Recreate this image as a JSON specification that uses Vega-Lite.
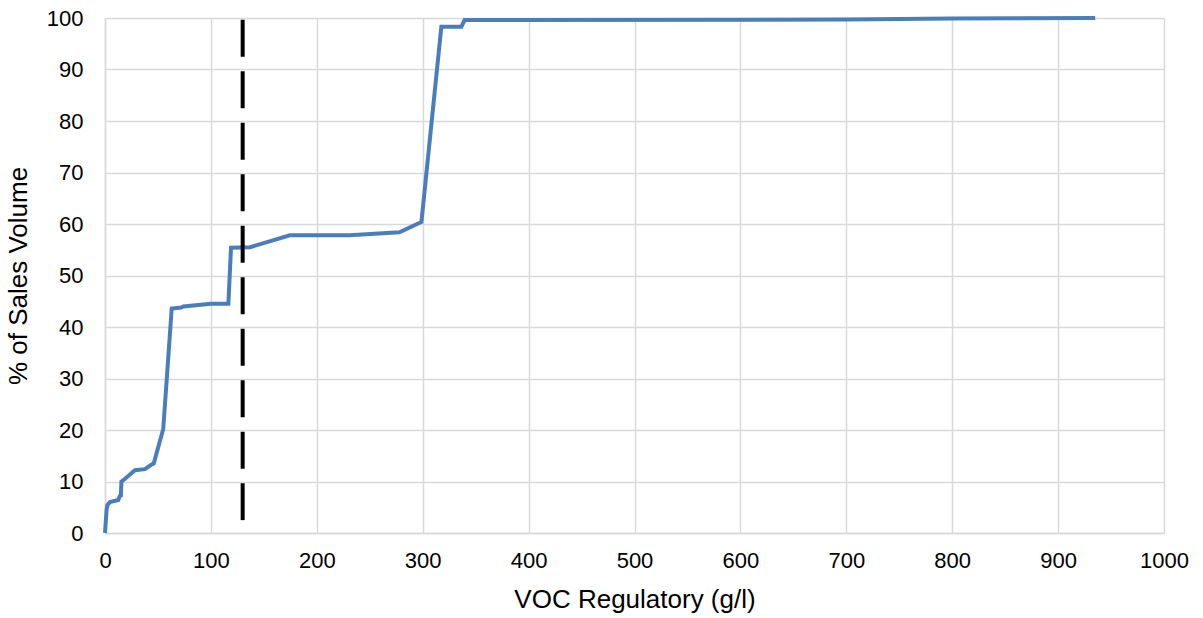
{
  "$schema": "https://vega.github.io/schema/vega-lite/v6.json",
  "width": 1059,
  "height": 515,
  "autosize": {"type": "none"},
  "padding": {"left": 105, "top": 18, "right": 39, "bottom": 85},
  "background": "white",
  "config": {
    "view": {"stroke": null},
    "font": "Liberation Sans",
    "axis": {
      "gridColor": "#d9d9d9",
      "gridWidth": 1.5,
      "domainColor": "#d9d9d9",
      "domainWidth": 1.5,
      "ticks": false,
      "labelFlush": false,
      "labelFont": "Liberation Sans",
      "labelFontSize": 22,
      "labelColor": "#000000",
      "titleFont": "Liberation Sans",
      "titleFontSize": 26,
      "titleFontWeight": "normal",
      "titleColor": "#000000"
    }
  },
  "datasets": {
    "curve": [
      {"voc": 0, "pct": 0},
      {"voc": 1.5, "pct": 4.5},
      {"voc": 2.2, "pct": 5.4},
      {"voc": 4.7, "pct": 6.0},
      {"voc": 12.5, "pct": 6.4},
      {"voc": 14, "pct": 7.2},
      {"voc": 15, "pct": 7.3},
      {"voc": 15.5, "pct": 10.0},
      {"voc": 17, "pct": 10.2},
      {"voc": 28.3, "pct": 12.2},
      {"voc": 37.7, "pct": 12.4},
      {"voc": 44, "pct": 13.3},
      {"voc": 46, "pct": 13.5},
      {"voc": 55, "pct": 20.2},
      {"voc": 63, "pct": 43.6},
      {"voc": 72, "pct": 43.8},
      {"voc": 74, "pct": 44.0},
      {"voc": 100, "pct": 44.5},
      {"voc": 116.5, "pct": 44.5},
      {"voc": 119, "pct": 55.4},
      {"voc": 137, "pct": 55.5},
      {"voc": 174.5, "pct": 57.8},
      {"voc": 231, "pct": 57.8},
      {"voc": 278, "pct": 58.4},
      {"voc": 298.8, "pct": 60.4},
      {"voc": 317.6, "pct": 98.3},
      {"voc": 336.5, "pct": 98.3},
      {"voc": 339.6, "pct": 99.6},
      {"voc": 700, "pct": 99.7},
      {"voc": 800, "pct": 99.9},
      {"voc": 935, "pct": 100}
    ],
    "limit": [
      {"voc": 130, "pct_low": 2.5, "pct_high": 100}
    ]
  },
  "layer": [
    {
      "data": {"name": "curve"},
      "mark": {"type": "line", "color": "#4a7ebb", "strokeWidth": 4, "clip": false},
      "encoding": {
        "x": {
          "field": "voc", "type": "quantitative",
          "scale": {"domain": [0, 1000], "nice": false},
          "axis": {"values": [0,100,200,300,400,500,600,700,800,900,1000], "format": "d", "title": "VOC Regulatory (g/l)", "labelPadding": 17, "titlePadding": 15}
        },
        "y": {
          "field": "pct", "type": "quantitative",
          "scale": {"domain": [0, 100], "nice": false},
          "axis": {"values": [0,10,20,30,40,50,60,70,80,90,100], "title": "% of Sales Volume", "labelPadding": 22, "titlePadding": 15}
        }
      }
    },
    {
      "data": {"name": "limit"},
      "mark": {"type": "rule", "color": "#000000", "strokeWidth": 4, "strokeDash": [37, 14.5]},
      "encoding": {
        "x": {"field": "voc", "type": "quantitative"},
        "y": {"field": "pct_low", "type": "quantitative"},
        "y2": {"field": "pct_high"}
      }
    }
  ]
}
